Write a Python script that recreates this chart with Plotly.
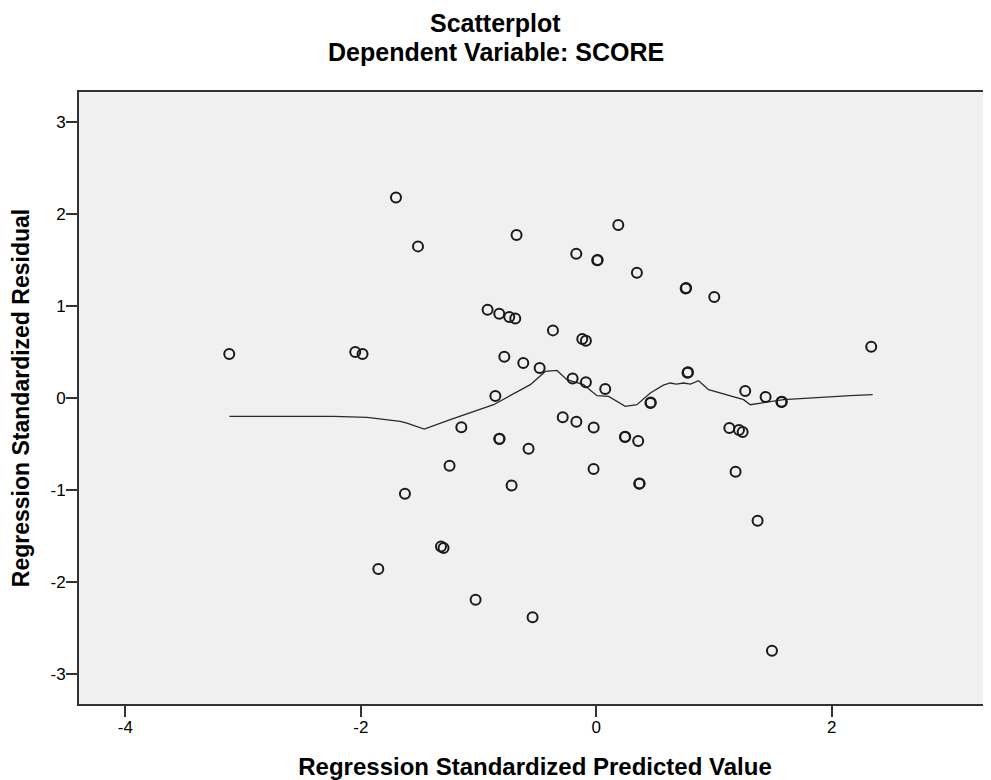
import plotly.graph_objects as go

# Regression standardized predicted values (x) and residuals (y)
pred = [-3.117, -1.701, -1.514, -2.047, -1.985, -0.923, -0.824, -0.739, -0.688,
        -0.677, 0.187, -0.170, 0.008, 0.012, 0.345, 0.759, 0.763, 1.002,
        -0.368, -0.119, -0.088, -0.781, -0.620, -0.481, 0.775, 0.779,
        -0.201, -0.088, 0.076, 1.265, 1.438, 1.572, 1.576, -0.857, 0.460, 0.463,
        2.335, -1.146, -0.285, -0.169, -0.022, -0.824, -0.821, 0.243, 0.246,
        0.356, 1.130, 1.212, 1.243, -0.575, -1.246, -0.719, -0.023, 0.365, 0.368,
        1.183, -1.625, -1.319, -1.297, -1.851, 1.370, -1.025, -0.541, 1.492]
resid = [0.478, 2.180, 1.648, 0.500, 0.478, 0.960, 0.916, 0.880, 0.865,
         1.772, 1.880, 1.568, 1.496, 1.500, 1.362, 1.191, 1.195, 1.098,
         0.735, 0.641, 0.623, 0.449, 0.380, 0.326, 0.275, 0.279,
         0.213, 0.170, 0.098, 0.076, 0.011, -0.044, -0.040, 0.021, -0.054, -0.050,
         0.558, -0.318, -0.209, -0.258, -0.320, -0.446, -0.442, -0.424, -0.420,
         -0.468, -0.326, -0.348, -0.370, -0.551, -0.736, -0.950, -0.772, -0.932, -0.928,
         -0.801, -1.040, -1.613, -1.630, -1.859, -1.334, -2.192, -2.384, -2.747]

# Fit (loess) line
fit_x = [-3.115, -2.5, -2.231, -1.947, -1.806, -1.665, -1.608, -1.55, -1.461,
         -1.24, -0.872, -0.56, -0.433, -0.334, -0.249, -0.108, 0.006, 0.105,
         0.246, 0.345, 0.459, 0.57, 0.628, 0.68, 0.741, 0.80, 0.869, 0.954,
         1.251, 1.308, 1.591, 2.157, 2.347]
fit_y = [-0.200, -0.200, -0.200, -0.210, -0.228, -0.254, -0.272, -0.300, -0.337,
         -0.236, -0.073, 0.145, 0.289, 0.300, 0.199, 0.145, 0.025, 0.017,
         -0.091, -0.073, 0.054, 0.140, 0.163, 0.150, 0.163, 0.150, 0.188, 0.090,
         -0.018, -0.073, -0.018, 0.025, 0.036]

x_ticks = [-4, -2, 0, 2]
y_ticks = [-3, -2, -1, 0, 1, 2, 3]

FONT = "Arial, Liberation Sans, sans-serif"

# page body adds an 8px offset; size the figure so it fits the window exactly
W, H = 983, 772
L, T, R, B = 71, 84, 0, 76
PW, PH = W - L - R, H - T - B

fig = go.Figure()
fig.add_trace(go.Scatter(
    x=fit_x, y=fit_y, mode="lines",
    line=dict(color="#2a2a2a", width=1.3),
    hoverinfo="skip", showlegend=False))
fig.add_trace(go.Scatter(
    x=pred, y=resid, mode="markers",
    marker=dict(symbol="circle-open", size=10, color="#1a1a1a",
                line=dict(width=2, color="#1a1a1a")),
    showlegend=False))

fig.update_layout(
    width=W, height=H,
    margin=dict(l=L, r=R, t=T, b=B),
    paper_bgcolor="white", plot_bgcolor="#f0f0f0",
    font=dict(family=FONT, color="black"),
)
cx = (487.5 - L) / PW
fig.add_annotation(text="<b>Scatterplot</b>", xref="paper", yref="paper",
                   x=cx, y=1 + (T - 15) / PH,
                   xanchor="center", yanchor="middle", showarrow=False,
                   font=dict(size=25, family=FONT, color="black"))
fig.add_annotation(text="<b>Dependent Variable: SCORE</b>", xref="paper", yref="paper",
                   x=cx, y=1 + (T - 44) / PH,
                   xanchor="center", yanchor="middle", showarrow=False,
                   font=dict(size=25, family=FONT, color="black"))

fig.update_xaxes(
    range=[-4.393, -4.393 + PW / 117.75], tickvals=x_ticks,
    ticktext=[str(v) for v in x_ticks],
    showgrid=False, zeroline=False, automargin=False,
    showline=True, linecolor="#333333", linewidth=2, mirror=True,
    ticks="outside", ticklen=11, tickwidth=2, tickcolor="#333333",
    ticklabelstandoff=-4,
    tickfont=dict(size=17, family=FONT, color="black"),
    title=dict(text="<b>Regression Standardized Predicted Value</b>",
               font=dict(size=24, family=FONT, color="black"), standoff=22),
)
fig.update_yaxes(
    range=[-3.326, 3.326], tickvals=y_ticks, ticktext=[str(v) for v in y_ticks],
    showgrid=False, zeroline=False, automargin=False,
    showline=True, linecolor="#333333", linewidth=2, mirror=False,
    ticks="outside", ticklen=11, tickwidth=2, tickcolor="#333333",
    ticklabelstandoff=-3,
    tickfont=dict(size=17, family=FONT, color="black"),
    title=dict(text="<b>Regression Standardized Residual</b>",
               font=dict(size=23, family=FONT, color="black"), standoff=20),
)

fig.write_html("out.html")
